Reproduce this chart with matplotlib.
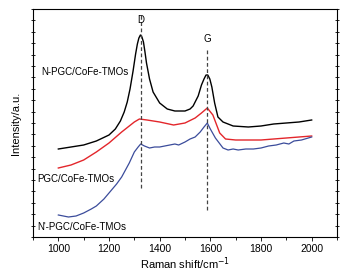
import matplotlib
matplotlib.use("Agg")
import matplotlib.pyplot as plt
from matplotlib.ticker import MultipleLocator, NullFormatter

plt.rcParams['font.family'] = ['Liberation Sans', 'DejaVu Sans']

# Raman spectra, intensity in arbitrary units
x_npgc = [1000, 1050, 1100, 1150, 1200, 1225, 1245, 1260, 1272, 1283, 1295, 1305, 1312,
          1318, 1324, 1330, 1336, 1342, 1348, 1360, 1374, 1400, 1430, 1460, 1500,
          1520, 1532, 1552, 1565, 1575, 1583, 1590, 1598, 1606, 1617, 1630, 1650,
          1690, 1750, 1800, 1850, 1900, 1950, 2000]
y_npgc = [88, 90, 92, 96, 102, 108, 116, 125, 135, 148, 166, 183, 193,
          199, 202, 200, 195, 185, 174, 158, 145, 134, 128, 126, 126,
          128, 131, 141, 152, 158, 162, 162, 158, 150, 134, 120, 115,
          111, 110, 111, 113, 114, 115, 117]

x_pgc = [1000, 1050, 1100, 1150, 1200, 1250, 1300, 1320, 1350, 1400, 1455, 1500,
         1540, 1565, 1588, 1610, 1637, 1660, 1700, 1750, 1800, 1900, 2000]
y_pgc = [69, 72, 77, 85, 94, 105, 115, 118, 117, 115, 112, 114,
         119, 124, 129, 122, 104, 98, 97, 97, 97, 99, 101]

x_npgc2 = [1000, 1020, 1040, 1070, 1100, 1130, 1150, 1180, 1200, 1230, 1250, 1280,
           1300, 1315, 1325, 1340, 1360, 1380, 1400, 1420, 1440, 1460, 1475, 1500,
           1520, 1540, 1560, 1575, 1588, 1600, 1620, 1650, 1670, 1690, 1710, 1740,
           1770, 1800, 1830, 1860, 1890, 1910, 1930, 1960, 2000]
y_npgc2 = [22, 21, 20, 21, 24, 28, 31, 38, 44, 53, 60, 74,
           85, 90, 93, 91, 89, 90, 90, 91, 92, 93, 92, 95,
           98, 100, 105, 110, 114, 108, 99, 89, 87, 88, 87, 88,
           88, 89, 91, 92, 94, 93, 96, 97, 100]

labels = ['N-PGC/CoFe-TMOs', 'PGC/CoFe-TMOs', "N'-PGC/CoFe-TMOs"]
peak_names = ['D', 'G']
peak_pos = [1325, 1587]

fig = plt.figure(figsize=(3.48, 2.76), dpi=100)
ax = fig.add_axes([33 / 348, 39 / 276, 304 / 348, 228 / 276])

ax.plot(x_npgc, y_npgc, color='black', lw=1.0)
ax.plot(x_pgc, y_pgc, color='#e3262b', lw=1.0)
ax.plot(x_npgc2, y_npgc2, color='#3b4c9b', lw=0.9)

# dashed peak markers
ax.plot([peak_pos[0]] * 2, [49, 222], color='#444444', ls=(0, (3, 2)), lw=0.9)
ax.plot([peak_pos[1]] * 2, [27, 187], color='#444444', ls=(0, (3, 2)), lw=0.9)
ax.text(peak_pos[0], 217, peak_names[0], ha='center', va='center', fontsize=7)
ax.text(peak_pos[1], 198, peak_names[1], ha='center', va='center', fontsize=7)

ax.text(933, 165, labels[0], ha='left', va='center', fontsize=7)
ax.text(918, 58, labels[1], ha='left', va='center', fontsize=7)
ax.text(917, 10, labels[2], ha='left', va='center', fontsize=7)

ax.set_xlim(900, 2100)
ax.set_ylim(0, 228)
ax.xaxis.set_major_locator(MultipleLocator(200))
ax.xaxis.set_minor_locator(MultipleLocator(100))
ax.yaxis.set_major_locator(MultipleLocator(22.8))
ax.yaxis.set_minor_locator(MultipleLocator(11.4))
ax.yaxis.set_major_formatter(NullFormatter())
ax.tick_params(axis='x', which='major', labelsize=7.5, length=3, width=0.6, pad=2)
ax.tick_params(axis='x', which='minor', length=2, width=0.6)
ax.tick_params(axis='y', which='both', left=True, right=True, direction='inout',
               length=2.5, width=0.6)
for s in ax.spines.values():
    s.set_linewidth(0.8)

ax.set_xlabel('Raman shift/cm$^{-1}$', fontsize=8, labelpad=1)
ax.set_ylabel('Intensity/a.u.', fontsize=8, labelpad=4)

fig.savefig('out.png', dpi=100)
